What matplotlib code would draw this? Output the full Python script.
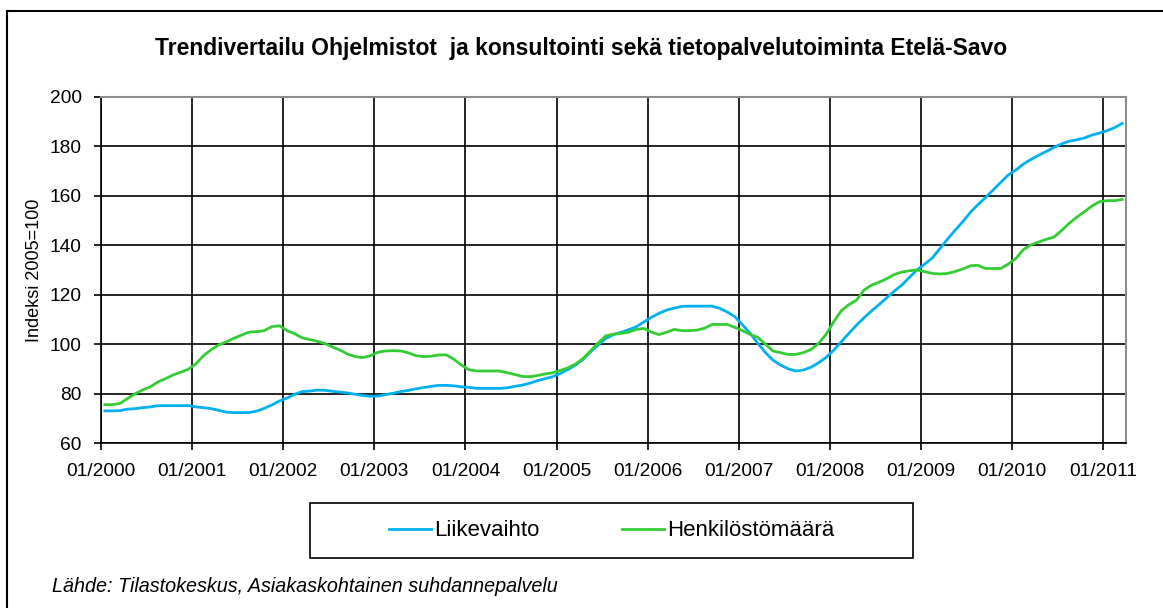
# Trendivertailu: liikevaihto ja henkilöstömäärä, Etelä-Savo (indeksi 2005=100)
import numpy as np
import matplotlib
matplotlib.use("Agg")
import matplotlib.pyplot as plt
from matplotlib.lines import Line2D
from matplotlib.patches import Rectangle

plt.rcParams['font.family'] = ['Liberation Sans', 'DejaVu Sans']

# Kuukausittaiset trendiarvot 01/2000 - 03/2011
liikevaihto = [
    73.1, 73.1, 73.2, 73.8, 74.0, 74.4, 74.7, 75.2, 75.2, 75.2, 75.2, 75.2,
    74.7, 74.4, 74.0, 73.3, 72.6, 72.4, 72.4, 72.4, 73.0, 74.1, 75.5, 77.1,
    78.3, 79.8, 80.9, 81.1, 81.5, 81.4, 81.0, 80.7, 80.3, 79.8, 79.3, 79.0,
    79.1, 79.7, 80.2, 80.9, 81.4, 82.0, 82.5, 83.0, 83.4, 83.4, 83.2, 82.8,
    82.6, 82.2, 82.2, 82.2, 82.2, 82.4, 83.0, 83.5, 84.3, 85.3, 86.1, 86.9,
    88.2, 89.8, 91.6, 93.9, 97.0, 99.8, 102.4, 103.9, 104.8, 105.9, 107.1, 109.0,
    110.9, 112.5, 113.8, 114.6, 115.3, 115.4, 115.4, 115.4, 115.4, 114.5, 113.0, 111.1,
    107.8, 104.4, 100.4, 96.7, 93.6, 91.6, 90.1, 89.2, 89.6, 90.7, 92.5, 94.7,
    97.6, 101.0, 104.4, 107.7, 110.7, 113.5, 116.1, 118.8, 121.5, 124.0, 127.1, 130.1,
    132.4, 134.9, 138.7, 142.5, 146.1, 149.5, 153.3, 156.4, 159.3, 162.3, 165.4, 168.4,
    170.4, 172.8, 174.7, 176.3, 177.9, 179.5, 180.9, 182.0, 182.6, 183.3, 184.5, 185.3,
    186.3, 187.5, 189.2,
]
henkilosto = [
    75.6, 75.6, 76.1, 78.1, 80.0, 81.6, 82.8, 84.8, 86.1, 87.6, 88.7, 89.9,
    92.1, 95.4, 97.8, 99.7, 101.0, 102.4, 103.7, 104.9, 105.1, 105.5, 107.1, 107.5,
    105.5, 104.3, 102.6, 101.9, 101.2, 100.3, 98.9, 97.6, 96.0, 95.0, 94.6, 95.4,
    96.8, 97.3, 97.4, 97.3, 96.5, 95.4, 95.0, 95.2, 95.7, 95.7, 93.9, 91.5,
    89.7, 89.2, 89.2, 89.2, 89.2, 88.5, 87.8, 87.0, 86.9, 87.4, 88.0, 88.5,
    89.4, 90.5, 92.0, 94.3, 97.4, 100.6, 103.4, 104.1, 104.4, 104.9, 106.0, 106.4,
    104.9, 103.9, 104.9, 106.0, 105.5, 105.5, 105.7, 106.5, 108.0, 108.0, 108.0, 106.8,
    105.5, 104.0, 102.8, 100.1, 97.3, 96.6, 95.9, 95.9, 96.6, 97.9, 100.3, 104.0,
    109.1, 113.5, 116.0, 117.8, 121.9, 123.9, 125.1, 126.5, 128.2, 129.2, 129.7, 130.0,
    129.3, 128.6, 128.4, 128.6, 129.4, 130.4, 131.7, 131.9, 130.6, 130.6, 130.6, 132.4,
    134.7, 138.3, 140.2, 141.3, 142.4, 143.3, 145.9, 148.8, 151.3, 153.5, 155.8, 157.6,
    158.0, 158.0, 158.5,
]
vuodet = ["01/2000", "01/2001", "01/2002", "01/2003", "01/2004", "01/2005",
          "01/2006", "01/2007", "01/2008", "01/2009", "01/2010", "01/2011"]

W, H = 1163, 608
fig = plt.figure(figsize=(W / 100, H / 100), dpi=100)
ax = fig.add_axes([101 / W, 1 - 443.3 / H, 1025 / W, 346.6 / H])

# pisteet kuukausien keskelle kuten Excelin luokka-akselilla
x = np.arange(len(liikevaihto)) + 0.5
ax.plot(x, liikevaihto, color="#00B0F0", lw=2.0, label="Liikevaihto", zorder=3)
ax.plot(x, henkilosto, color="#33CC33", lw=2.0, label="Henkilöstömäärä", zorder=3)

ax.set_xlim(0, len(liikevaihto))
ax.set_ylim(60, 200)
ax.set_yticks(range(60, 201, 20))
ax.set_xticks(np.arange(len(vuodet)) * 12)
ax.set_xticklabels(vuodet)

ax.grid(True, color="black", lw=1.2, zorder=1)
ax.set_axisbelow(True)
for s in ["top", "right"]:
    ax.spines[s].set_color("#8c8c8c")
    ax.spines[s].set_linewidth(1.5)
for s in ["left", "bottom"]:
    ax.spines[s].set_color("black")
    ax.spines[s].set_linewidth(1.2)
ax.tick_params(axis="both", direction="out", length=5, width=1.2, labelsize=13.8)
ax.tick_params(axis="y", pad=9)
ax.tick_params(axis="x", pad=9.5)

ax.set_ylabel("Indeksi 2005=100", fontsize=13, labelpad=5)

fig.text(0.5, 1 - 48 / H, "Trendivertailu Ohjelmistot  ja konsultointi sekä tietopalvelutoiminta Etelä-Savo",
         ha="center", va="center", fontsize=16.5, fontweight="bold")

# selitelaatikko
fig.patches.append(Rectangle((310 / W, 1 - 558 / H), 603 / W, 55 / H, transform=fig.transFigure,
                             fill=False, edgecolor="black", lw=1.2))
fig.legend(loc="center", bbox_to_anchor=(611.5 / W, 1 - 531 / H), ncol=2, frameon=False,
           fontsize=16, handlelength=1.9, handletextpad=0.14, columnspacing=3.7)

fig.text(52 / W, 1 - 586 / H, "Lähde: Tilastokeskus, Asiakaskohtainen suhdannepalvelu",
         ha="left", va="center", fontsize=14.2, style="italic")

# kuvion reunaviivat
fig.add_artist(Line2D([7 / W, 7 / W], [0, 1 - 11 / H], transform=fig.transFigure, color="black", lw=1.5))
fig.add_artist(Line2D([7 / W, 1], [1 - 11 / H, 1 - 11 / H], transform=fig.transFigure, color="black", lw=1.5))

fig.savefig("out.png", dpi=100)
